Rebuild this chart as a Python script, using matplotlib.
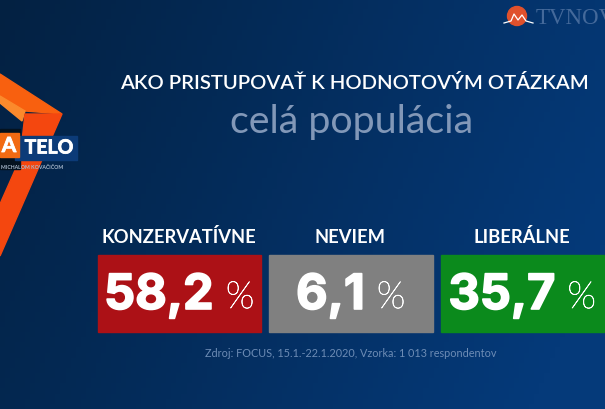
"""TV graphic: Ako pristupovať k hodnotovým otázkam, three result cards."""

import matplotlib
matplotlib.use("Agg")
import matplotlib.patheffects as pe
import matplotlib.pyplot as plt
import numpy as np
from matplotlib.patches import Circle, Polygon, Rectangle

categories = ["KONZERVATÍVNE", "NEVIEM", "LIBERÁLNE"]
values = [58.2, 6.1, 35.7]
card_colors = ["#ac1116", "#808080", "#0b8a1c"]

title = "AKO PRISTUPOVAŤ K HODNOTOVÝM OTÁZKAM"
subtitle = "celá populácia"
source = "Zdroj: FOCUS, 15.1.-22.1.2020, Vzorka: 1 013 respondentov"

plt.rcParams["font.family"] = ["Lato", "Roboto", "DejaVu Sans"]


def main() -> None:
    fig = plt.figure(figsize=(6.05, 4.10), dpi=100)
    ax = fig.add_axes([0, 0, 1, 1])
    ax.set_xlim(0, 605)
    ax.set_ylim(410, 0)
    ax.axis("off")

    # background: dark navy on the left going to blue at lower right
    xx, yy = np.meshgrid(np.linspace(0, 1, 120), np.linspace(0, 1, 80))
    t = np.clip(0.85 * xx + 0.25 * yy, 0, 1)[..., None]
    dark = np.array([3, 33, 66]) / 255
    light = np.array([5, 58, 122]) / 255
    ax.imshow(dark + (light - dark) * t, extent=(0, 605, 410, 0), aspect="auto", zorder=0)

    # orange logo on the left edge
    ax.add_patch(Polygon([(0, 75), (62, 115), (25, 112), (0, 97)], color="#f8600f", zorder=1))
    ax.add_patch(Polygon([(0, 97), (25, 112), (22, 122), (0, 104)], color="#fb8a2c", zorder=1))
    ax.add_patch(Polygon([(25, 115), (62, 115), (0, 257), (0, 205), (20, 160)], color="#f4470f", zorder=1))
    ax.add_patch(Rectangle((0, 130), 20, 40, color="#04121f", zorder=2))
    ax.add_patch(Rectangle((15, 137), 62, 24, color="#0c3b78", zorder=3))
    ax.add_patch(Rectangle((0, 134), 19, 24, color="#f26a12", zorder=4))
    bold_logo = [pe.withStroke(linewidth=0.6, foreground="white")]
    ax.text(9, 147, "A", color="white", fontsize=15, fontweight="bold", ha="center", va="center", zorder=5,
            path_effects=bold_logo)
    ax.text(49, 149, "TELO", color="white", fontsize=14, fontweight="bold", ha="center", va="center", zorder=5,
            path_effects=bold_logo)
    ax.text(32.5, 167.5, "MICHALOM KOVAČIČOM", color="#a9b9cc", fontsize=3.7, fontweight="bold",
            ha="center", va="center", zorder=5)

    # station logo, cut off by the right edge
    ax.add_patch(Circle((517, 17), 9.5, color="#e0512c", zorder=2))
    ax.plot([504, 511, 514, 518, 522, 526, 533], [24, 22, 15, 21, 16, 22, 24], color="white", lw=0.9, zorder=3)
    ax.text(536, 18, "TVNOV", family="Liberation Serif", color="#44699a", fontsize=16.5,
            ha="left", va="center", clip_on=True, zorder=2)

    ax.text(354, 83, title, color="white", fontsize=14.6, fontweight="semibold", ha="center", va="center", zorder=2)
    ax.text(352, 122, subtitle, color="#8298b8", fontsize=28.4, fontweight="normal", ha="center", va="center", zorder=2)

    # one card per category, number and % centred together
    card_w, card_h, top = 163.5, 77, 256
    step = 171.5
    renderer = fig.canvas.get_renderer()
    for i, (cat, val, col) in enumerate(zip(categories, values, card_colors)):
        left = 97.5 + i * step
        ax.add_patch(Rectangle((left, top), card_w, card_h, color=col, zorder=2))
        ax.text(left + card_w / 2 - 0.5, 237.5, cat, color="white", fontsize=13.2, fontweight="bold",
                ha="center", va="center", zorder=3)
        num = f"{val:.1f}".replace(".", ",")
        num_text = ax.text(0, 297, num, family="Inter", color="white", fontsize=35, fontweight="bold",
                           ha="left", va="center", zorder=3,
                           path_effects=[pe.withStroke(linewidth=1.2, foreground="white")])
        pct_text = ax.text(0, 299, "%", family="Lato", color="white", fontsize=27, fontweight="light",
                           ha="left", va="center", zorder=3,
                           path_effects=[pe.withStroke(linewidth=0.5, foreground="white")])
        num_w = num_text.get_window_extent(renderer).width
        pct_w = pct_text.get_window_extent(renderer).width
        gap = 12
        x0 = left + card_w / 2 - (num_w + gap + pct_w) / 2
        num_text.set_x(x0)
        pct_text.set_x(x0 + num_w + gap)

    ax.text(351, 354, source, color="#6d8cb5", fontsize=7.85, ha="center", va="center", zorder=2)

    fig.savefig("out.png", dpi=100)


if __name__ == "__main__":
    main()
